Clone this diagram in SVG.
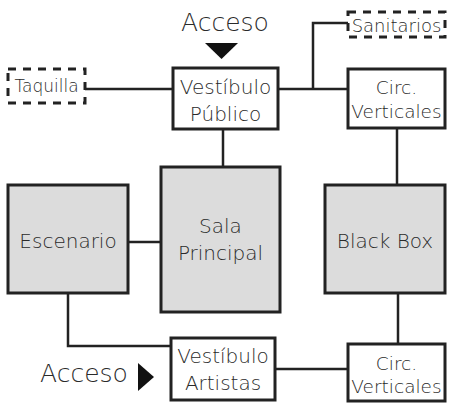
<svg xmlns="http://www.w3.org/2000/svg" width="449" height="403" viewBox="0 0 449 403">
<style>
.box{fill:#fff;stroke:#222;stroke-width:3}
.grey{fill:#dcdcdc;stroke:#222;stroke-width:3}
.dash{fill:#fff;stroke:#222;stroke-width:3;stroke-dasharray:8 7}
.ln{fill:none;stroke:#222;stroke-width:2.5}
text{font-family:"DejaVu Sans","Liberation Sans",sans-serif;fill:#2a2a2a;text-anchor:middle;font-weight:200}
.t{font-size:20px}
.s{font-size:17px}
.n{font-size:18px}
.c{font-size:18.5px}
.a{font-size:25px}
</style>
<rect width="449" height="403" fill="#fff"/>
<g id="connectors">
<path class="ln" d="M85 89H173"/>
<path class="ln" d="M278 89H348"/>
<path class="ln" d="M313 89V23H348"/>
<path class="ln" d="M223 129V167"/>
<path class="ln" d="M397 128V185"/>
<path class="ln" d="M128 242H161"/>
<path class="ln" d="M68 293V346H171"/>
<path class="ln" d="M275 369H348"/>
<path class="ln" d="M398 293V344"/>
</g>
<g id="acceso-top">
<text class="a" x="225" y="31">Acceso</text>
<polygon points="205,43 238,43 221.5,59" fill="#111"/>
</g>
<g id="acceso-bottom">
<text class="a" x="84" y="382">Acceso</text>
<polygon points="138,363 154,377 138,391" fill="#111"/>
</g>
<g id="taquilla">
<rect class="dash" x="8" y="69" width="77" height="34"/>
<text class="s" x="46.5" y="92">Taquilla</text>
</g>
<g id="sanitarios">
<rect class="dash" x="348" y="12" width="97" height="25"/>
<text class="n" x="396.5" y="32">Sanitarios</text>
</g>
<g id="vestibulo-publico">
<rect class="box" x="173" y="68" width="105" height="61"/>
<text class="t" x="225.5" y="94">Vestíbulo</text>
<text class="t" x="225.5" y="121">Público</text>
</g>
<g id="circ-top">
<rect class="box" x="348" y="69" width="97" height="59"/>
<text class="c" x="396.5" y="94">Circ.</text>
<text class="c" x="396.5" y="118">Verticales</text>
</g>
<g id="sala-principal">
<rect class="grey" x="161" y="167" width="119" height="145"/>
<text class="t" x="220.5" y="233">Sala</text>
<text class="t" x="220.5" y="260">Principal</text>
</g>
<g id="escenario">
<rect class="grey" x="8" y="185" width="120" height="108"/>
<text class="t" x="68" y="248">Escenario</text>
</g>
<g id="black-box">
<rect class="grey" x="325" y="185" width="120" height="108"/>
<text class="t" x="385" y="248">Black Box</text>
</g>
<g id="vestibulo-artistas">
<rect class="box" x="171" y="338" width="104" height="62"/>
<text class="t" x="223" y="363">Vestíbulo</text>
<text class="t" x="223" y="390">Artistas</text>
</g>
<g id="circ-bottom">
<rect class="box" x="348" y="344" width="97" height="57"/>
<text class="c" x="396.5" y="370">Circ.</text>
<text class="c" x="396.5" y="393">Verticales</text>
</g>
</svg>
